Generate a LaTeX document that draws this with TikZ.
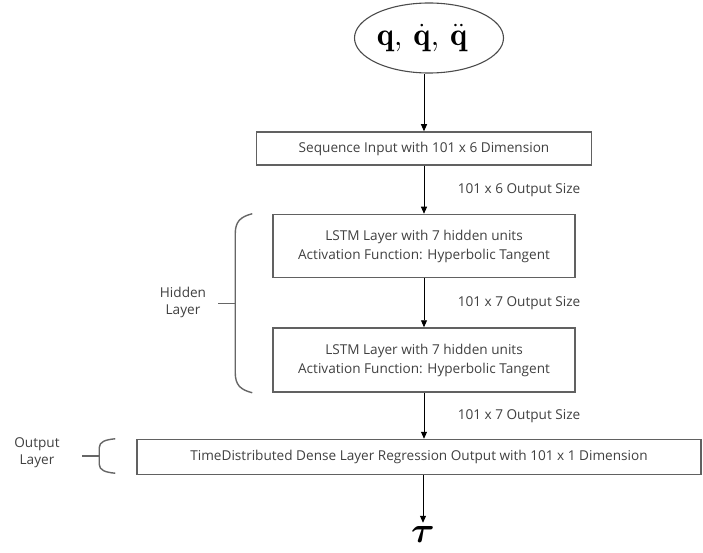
\documentclass[tikz,border=0pt]{standalone}
\usepackage{amsmath,amssymb}
\usepackage{fontspec}
\newfontfamily\labelfont{Open Sans}
\usepackage{tikz}
\usetikzlibrary{positioning,shapes.geometric,arrows.meta,calc}

\begin{document}
\begin{tikzpicture}[
  node distance=48pt,
  layer/.style={draw=black!62, line width=1.5pt, align=center, inner sep=0pt,
    text=black!75, font=\labelfont\fontsize{13.6}{19}\selectfont},
  inp/.style={ellipse, draw=black!70, line width=1.1pt, minimum width=149pt,
    minimum height=70pt, inner sep=0pt, font=\Huge},
  arr/.style={-{Triangle[length=7pt,width=6pt]}, line width=0.9pt},
  note/.style={font=\labelfont\fontsize{13.6}{17}\selectfont, text=black!75, align=center},
  brc/.style={draw=black!60, line width=1.4pt}
]
\useasboundingbox (0,0) rectangle (703pt,-553pt);
\node[inp] (q) at (429pt,-38pt)
  {\hspace*{-14pt}\scalebox{1.3}{$\mathbf{q},\,\dot{\mathbf{q}},\,\ddot{\mathbf{q}}$}};
\node[layer, minimum width=335pt, minimum height=33pt] (seq) at (424pt,-148.5pt)
  {Sequence Input with 101 x 6 Dimension};
\node[layer, minimum width=302pt, minimum height=63pt, below=48pt of seq] (lstm1)
  {LSTM Layer with 7 hidden units\\Activation Function: Hyperbolic Tangent};
\node[layer, minimum width=302pt, minimum height=64pt, below=49pt of lstm1] (lstm2)
  {LSTM Layer with 7 hidden units\\Activation Function: Hyperbolic Tangent};
\node[layer, minimum width=564pt, minimum height=35pt, below=46pt of lstm2, xshift=-5pt] (out)
  {TimeDistributed Dense Layer Regression Output with 101 x 1 Dimension};
\node[font=\Huge, inner sep=0pt] (tau) at (423pt,-534pt) {\scalebox{1.45}{$\boldsymbol{\tau}$}};

% main flow
\draw[arr] (q.south -| seq.north) -- (seq.north);
\draw[arr] (seq) -- (lstm1) node[midway, right=30pt, note] {101 x 6 Output Size};
\draw[arr] (lstm1) -- (lstm2) node[midway, right=30pt, note] {101 x 7 Output Size};
\draw[arr] (lstm2) -- (lstm2.south |- out.north) node[midway, right=30pt, note] {101 x 7 Output Size};
\draw[arr] (out.south -| tau) -- ([yshift=3pt]tau.north);

% hidden layer bracket
\coordinate (ht) at ($(lstm1.north west)+(-20pt,0)$);
\coordinate (hb) at ($(lstm2.south west)+(-20pt,0)$);
\draw[brc] (ht) .. controls +(-12pt,-3pt) and +(0,12pt) .. ++(-17pt,-20pt)
  -- ($(hb)+(-17pt,20pt)$) .. controls +(0,-12pt) and +(-12pt,3pt) .. (hb);
\draw[brc] ($(ht)!0.5!(hb)+(-17pt,0)$) -- ++(-17pt,0);
\node[note] (hid) at (183pt,-302pt) {Hidden\\Layer};

% output layer bracket
\coordinate (ot) at ($(out.north west)+(-21pt,0)$);
\coordinate (ob) at ($(out.south west)+(-21pt,2pt)$);
\draw[brc] (ot) .. controls +(-10pt,-1pt) and +(0,6pt) .. ++(-16pt,-9pt)
  -- ($(ob)+(-16pt,9pt)$) .. controls +(0,-6pt) and +(-10pt,1pt) .. (ob);
\draw[brc] ($(ot)!0.5!(ob)+(-16pt,0)$) -- ++(-17pt,0);
\node[note] (outl) at (37pt,-453pt) {Output\\Layer};
\end{tikzpicture}
\end{document}
